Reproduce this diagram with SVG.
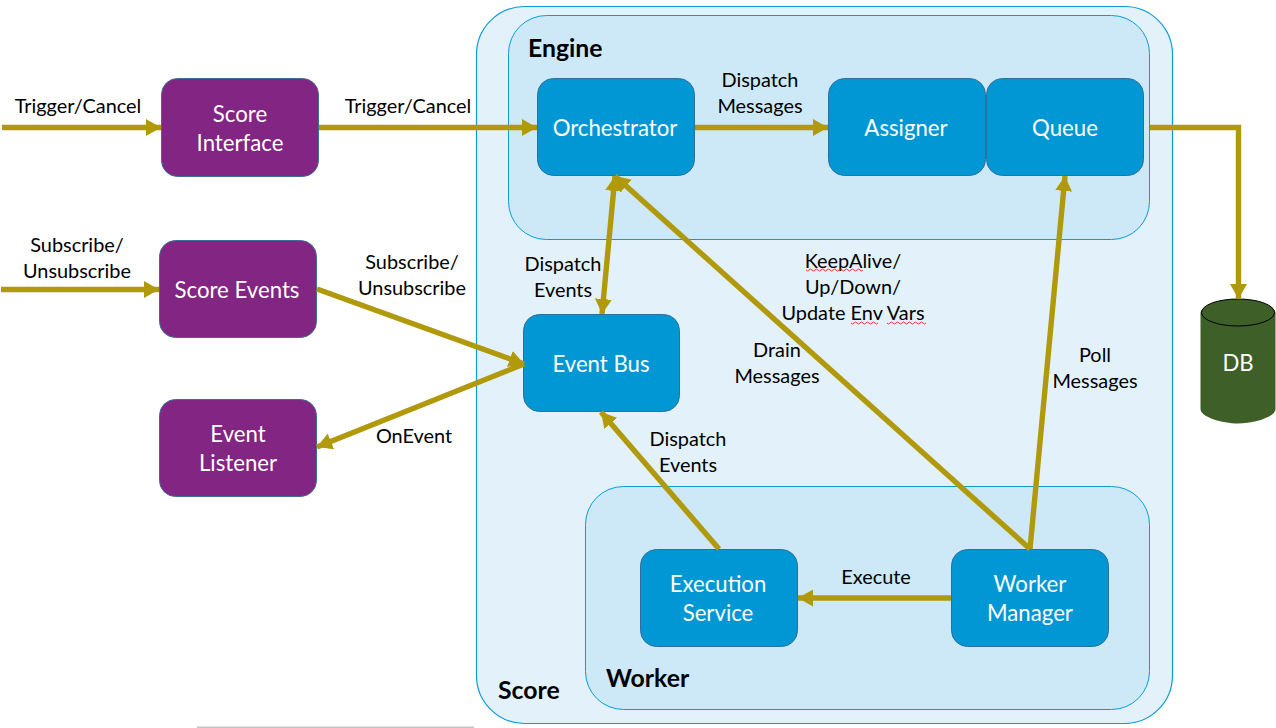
<svg xmlns="http://www.w3.org/2000/svg" width="1276" height="728" viewBox="0 0 1276 728">
<style>
text{font-family:Lato,"Open Sans","Liberation Sans",sans-serif;text-anchor:middle;fill:#000}
.n rect{fill:#0097d4;stroke:#2f6f9a;stroke-width:1}
.p rect{fill:#822583;stroke:#3f6c96;stroke-width:1}
.n text,.p text,#db text{fill:#fff;font-size:22.200px}
.l{font-size:19.900px}
.h{font-size:24.800px;font-weight:700;text-anchor:start}
.c{fill:none;stroke:#b09a0c;stroke-width:5.400}
.w{fill:none;stroke:#e33;stroke-width:1}
</style>
<defs>
<marker id="a" markerUnits="userSpaceOnUse" markerWidth="16" markerHeight="17" refX="15" refY="8.500" orient="auto-start-reverse"><path d="M0 0L15 8.500L0 17Z" fill="#b09a0c"/></marker>
</defs>
<rect width="1276" height="728" fill="#fff"/>
<rect x="197" y="726.500" width="277" height="1.500" fill="#c4c4c4"/>
<g id="score"><rect x="476.500" y="6.500" width="696" height="717" rx="48" fill="#e3f2fa" stroke="#0c9bd6" stroke-width="1.200"/><text class="h" x="498" y="699">Score</text></g>
<g id="engine"><rect x="508.500" y="15.500" width="641" height="224" rx="38" fill="#cde8f6" stroke="#0c9bd6"/><text class="h" x="528" y="57">Engine</text></g>
<g id="worker"><rect x="585.500" y="486.500" width="564" height="223" rx="38" fill="#cde8f6" stroke="#0c9bd6"/><text class="h" x="606" y="687">Worker</text></g>
<g id="score-interface" class="p"><rect x="161.500" y="78.500" width="157" height="98" rx="16"/><text x="240" y="122">Score</text><text x="240" y="151">Interface</text></g>
<g id="score-events" class="p"><rect x="159.500" y="240.500" width="157" height="97" rx="16"/><text x="237" y="298">Score Events</text></g>
<g id="event-listener" class="p"><rect x="159.500" y="399.500" width="157" height="97" rx="16"/><text x="238" y="442">Event</text><text x="238" y="471">Listener</text></g>
<g id="orchestrator" class="n"><rect x="537.500" y="78.500" width="157" height="97" rx="16"/><text x="615" y="136">Orchestrator</text></g>
<g id="assigner" class="n"><rect x="828.500" y="78.500" width="157" height="97" rx="16"/><text x="906" y="136">Assigner</text></g>
<g id="queue" class="n"><rect x="986.500" y="78.500" width="157" height="97" rx="16"/><text x="1065" y="136">Queue</text></g>
<g id="event-bus" class="n"><rect x="523.500" y="314.500" width="156" height="97" rx="16"/><text x="601" y="372">Event Bus</text></g>
<g id="execution-service" class="n"><rect x="640.500" y="549.500" width="157" height="97" rx="16"/><text x="718" y="592">Execution</text><text x="718" y="621">Service</text></g>
<g id="worker-manager" class="n"><rect x="951.500" y="549.500" width="157" height="97" rx="16"/><text x="1030" y="592">Worker</text><text x="1030" y="621">Manager</text></g>
<g id="db">
<path d="M1200.500 313C1200.500 306 1222 299 1238 299C1254 299 1275.500 306 1275.500 313V409C1275.500 417 1254 423.500 1238 423.500C1222 423.500 1200.500 417 1200.500 409Z" fill="#3e5f28"/>
<ellipse cx="1238" cy="312.500" rx="36.500" ry="13.500" fill="#3e5f28" stroke="#000" stroke-width="1"/>
<text x="1238" y="371">DB</text></g>
<g id="connectors">
<path class="c" marker-end="url(#a)" d="M2 127.500H161"/>
<path class="c" marker-end="url(#a)" d="M319 127.500H537"/>
<path class="c" marker-end="url(#a)" d="M1 289.500H159"/>
<path class="c" marker-end="url(#a)" d="M695 127.500H828"/>
<path class="c" marker-end="url(#a)" d="M1150 127.500H1238.500V299"/>
<path class="c" marker-end="url(#a)" d="M317 289L524 364"/>
<path class="c" marker-end="url(#a)" d="M524 364L317 447"/>
<path class="c" marker-start="url(#a)" marker-end="url(#a)" d="M615 176L602 314"/>
<path class="c" marker-end="url(#a)" d="M719 549L601 412"/>
<path class="c" marker-end="url(#a)" d="M1030 549L615 176"/>
<path class="c" marker-end="url(#a)" d="M1030 549L1065 176"/>
<path class="c" marker-end="url(#a)" d="M951 598H798"/>
</g>
<g id="labels">
<text class="l" x="78" y="113">Trigger/Cancel</text>
<text class="l" x="408" y="113">Trigger/Cancel</text>
<text class="l" x="77" y="252">Subscribe/</text><text class="l" x="77" y="278">Unsubscribe</text>
<text class="l" x="412" y="269">Subscribe/</text><text class="l" x="412" y="295">Unsubscribe</text>
<text class="l" x="414" y="443">OnEvent</text>
<text class="l" x="760" y="87">Dispatch</text><text class="l" x="760" y="113">Messages</text>
<text class="l" x="563" y="271">Dispatch</text><text class="l" x="563" y="297">Events</text>
<text class="l" x="853" y="268">KeepAlive/</text><text class="l" x="853" y="294">Up/Down/</text><text class="l" x="853" y="320">Update Env Vars</text>
<text class="l" x="777" y="357">Drain</text><text class="l" x="777" y="383">Messages</text>
<text class="l" x="1095" y="362">Poll</text><text class="l" x="1095" y="388">Messages</text>
<text class="l" x="688" y="446">Dispatch</text><text class="l" x="688" y="472">Events</text>
<text class="l" x="876" y="584">Execute</text>
</g>
<g id="spelling">
<path class="w" d="M806 270q1.500 2 3 0t3 0t3 0t3 0t3 0t3 0t3 0t3 0t3 0t3 0t3 0t3 0t3 0t3 0t3 0t3 0t3 0t3 0t3 0"/>
<path class="w" d="M851 323q1.500 2 3 0t3 0t3 0t3 0t3 0t3 0t3 0t3 0t3 0"/>
<path class="w" d="M887 323q1.500 2 3 0t3 0t3 0t3 0t3 0t3 0t3 0t3 0t3 0t3 0t3 0t3 0t3 0"/>
</g>
</svg>
